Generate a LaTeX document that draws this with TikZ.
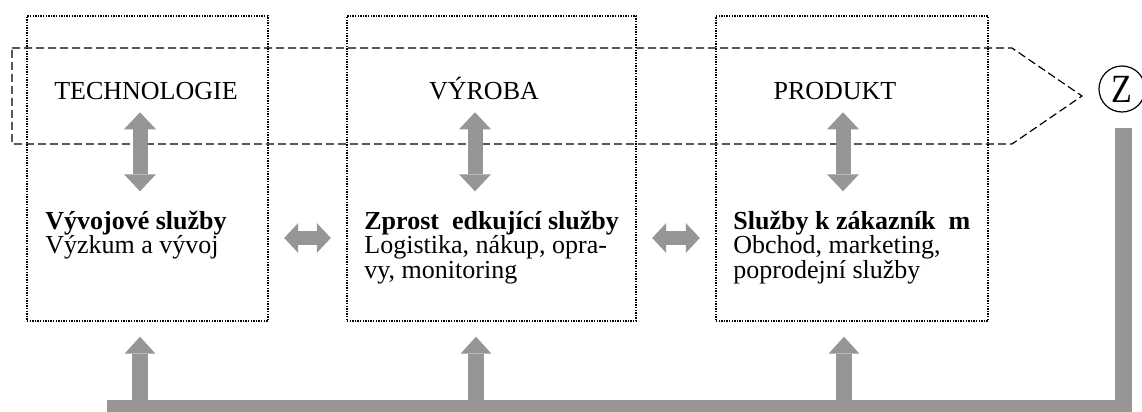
\documentclass[tikz,border=0pt]{standalone}
\usepackage{fontspec}
\setmainfont{Liberation Serif}
\usepackage{graphicx}
\usetikzlibrary{arrows.meta}
\definecolor{barGray}{RGB}{150,150,150}

\begin{document}
\begin{tikzpicture}[x=0.5pt,y=-0.5pt,
  areaBox/.style={draw,line width=0.7pt,dash pattern=on 0.7pt off 0.6pt,minimum height=152.5pt,inner sep=0pt},
  zoneLine/.style={line width=0.6pt,dash pattern=on 4pt off 2pt},
  headText/.style={font=\fontsize{13}{12.25}\selectfont,inner sep=0pt,anchor=base},
  servText/.style={font=\fontsize{13}{12.25}\selectfont,align=left,inner sep=0pt,anchor=north west},
  feedBar/.style={draw=barGray,line width=8.5pt,line join=miter},
  upArrow/.style={draw=barGray,line width=8pt,-{Triangle[width=15.5pt,length=8.5pt,line width=0pt]},shorten >=7.5pt},
  dblArrow/.style={draw=barGray,line width=7.5pt,{Triangle[width=16pt,length=8.5pt,line width=0pt]}-{Triangle[width=16pt,length=8.5pt,line width=0pt]}},
  sideArrow/.style={draw=barGray,line width=7pt,{Triangle[width=15pt,length=7pt,line width=0pt]}-{Triangle[width=15pt,length=7pt,line width=0pt]},shorten <=7.75pt,shorten >=7.75pt}]
\useasboundingbox (0,0) rectangle (1142,412);

% the three areas
\node[areaBox,minimum width=120.5pt] (tech) at (147.5,168.5) {};
\node[areaBox,minimum width=144.5pt] (vyr) at (491.5,168.5) {};
\node[areaBox,minimum width=136pt] (prod) at (852,168.5) {};

% dashed zone pointing to Z
\draw[zoneLine] (12,48) -- (1012,48) -- (1082,96) -- (1012,144) -- (12,144) -- cycle;
\node[draw,circle,line width=0.6pt,minimum size=23pt,inner sep=0pt,font=\fontsize{20}{20}\selectfont] (z) at (1122,89) {\scalebox{0.85}[1]{Z}};

\node[headText] (techH) at (146,99) {TECHNOLOGIE};
\node[headText] (vyrH) at (484,99) {VÝROBA};
\node[headText] (prodH) at (835,99) {PRODUKT};

\node[servText] (techS) at (45,209) {\rule{0pt}{10pt}\textbf{Vývojové služby}\\Výzkum a vývoj};
\node[servText] (vyrS) at (364,209) {\rule{0pt}{10pt}\textbf{Zprost\ \ edkující služby}\\Logistika, nákup, opra-\\vy, monitoring};
\node[servText] (prodS) at (733,209) {\rule{0pt}{10pt}\textbf{Služby k zákazník\ \ m}\\Obchod, marketing,\\poprodejní služby};

% arrows inside the areas
\draw[dblArrow] ([xshift=-3.75pt,yshift=-48.5pt]tech.north) -- ([xshift=-3.75pt,yshift=-88pt]tech.north);
\draw[dblArrow] ([xshift=-8.25pt,yshift=-48.5pt]vyr.north) -- ([xshift=-8.25pt,yshift=-88pt]vyr.north);
\draw[dblArrow] ([xshift=-4.5pt,yshift=-48.5pt]prod.north) -- ([xshift=-4.5pt,yshift=-88pt]prod.north);
\draw[sideArrow] ([yshift=-34.75pt]tech.east) -- ([yshift=-34.75pt]vyr.west);
\draw[sideArrow] ([yshift=-34.75pt]vyr.east) -- ([yshift=-34.75pt]prod.west);

% feedback from Z
\coordinate (zBar) at (1123.5,128);
\coordinate (bEnd) at (107,408.5);
\draw[feedBar] (zBar) |- (bEnd);
\draw[upArrow] ([xshift=-3.75pt]tech.south |- bEnd) -- ([xshift=-3.75pt]tech.south);
\draw[upArrow] ([xshift=-7.75pt]vyr.south |- bEnd) -- ([xshift=-7.75pt]vyr.south);
\draw[upArrow] ([xshift=-4pt]prod.south |- bEnd) -- ([xshift=-4pt]prod.south);
\end{tikzpicture}
\end{document}
